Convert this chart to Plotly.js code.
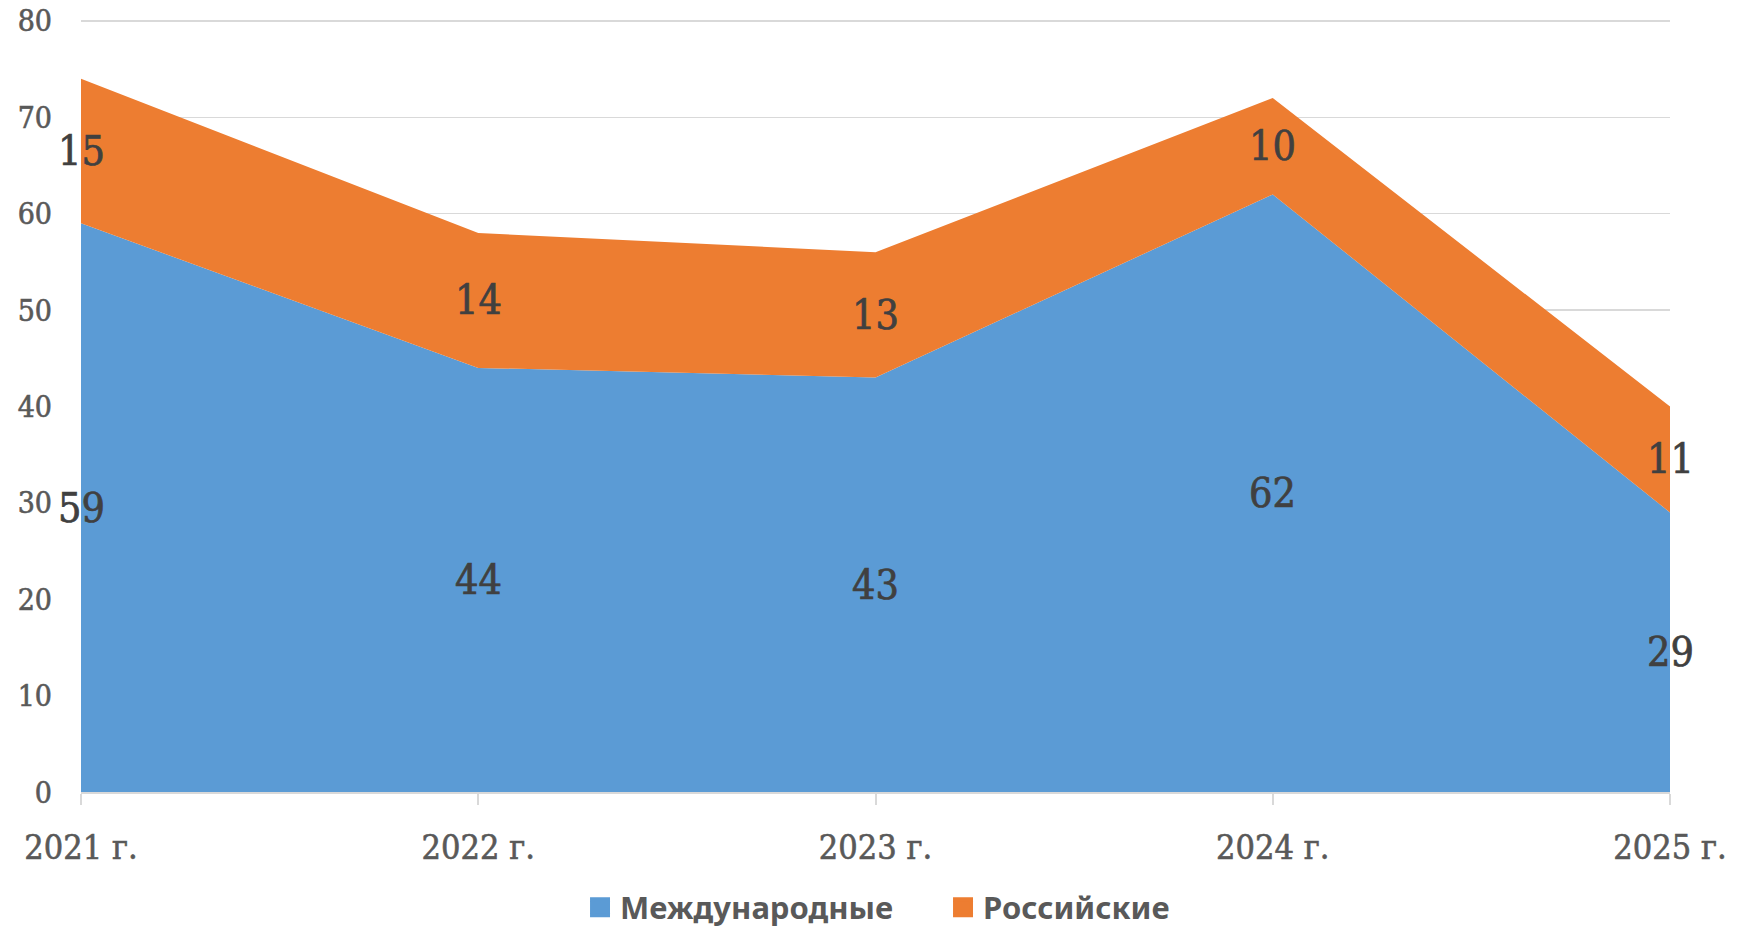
<!DOCTYPE html>
<html>
<head>
<meta charset="utf-8">
<script src="https://cdn.plot.ly/plotly-3.0.1.min.js"></script>
<style>
html,body{margin:0;padding:0;background:#fff;}
#chart{width:1740px;height:928px;}
#chart .xtick text, #chart .ytick text{stroke:#595959;stroke-width:0.6px;}
#chart .annotation-text{stroke:#404040;stroke-width:0.7px;}
</style>
</head>
<body>
<div id="chart"></div>
<script>
const years = ["2021 г.", "2022 г.", "2023 г.", "2024 г.", "2025 г."];
const intl = [59, 44, 43, 62, 29];
const rus = [15, 14, 13, 10, 11];
const seriesNames = ["Международные", "Российские"];
const yTicks = [0, 10, 20, 30, 40, 50, 60, 70, 80];

const blue = "#5B9BD5", orange = "#ED7D31";
const serif = "DejaVu Serif Condensed, DejaVu Serif, serif";

const traces = [
  {x: years, y: intl, type: "scatter", mode: "none", stackgroup: "one", fill: "tonexty",
   fillcolor: blue, line: {width: 0}, showlegend: false, hoverinfo: "skip"},
  {x: years, y: rus, type: "scatter", mode: "none", stackgroup: "one", fill: "tonexty",
   fillcolor: orange, line: {width: 0}, showlegend: false, hoverinfo: "skip"},
  {x: [null], y: [null], type: "scatter", mode: "markers", name: seriesNames[0],
   marker: {symbol: "square", size: 16, color: blue, line: {width: 4, color: blue}}},
  {x: [null], y: [null], type: "scatter", mode: "markers", name: seriesNames[1],
   marker: {symbol: "square", size: 16, color: orange, line: {width: 4, color: orange}}}
];

const annotations = [];
years.forEach((yr, i) => {
  annotations.push({x: yr, y: intl[i] / 2, xref: "x", yref: "y", text: String(intl[i]),
    showarrow: false, font: {family: serif, size: 41, color: "#404040"}});
  annotations.push({x: yr, y: intl[i] + rus[i] / 2, xref: "x", yref: "y", text: String(rus[i]),
    showarrow: false, font: {family: serif, size: 41, color: "#404040"}});
});

const layout = {
  width: 1740, height: 928,
  margin: {l: 81, r: 70, t: 18, b: 136},
  paper_bgcolor: "#fff", plot_bgcolor: "#fff",
  showlegend: true,
  legend: {orientation: "h", traceorder: "normal", xref: "paper", x: 0.5425, xanchor: "center",
    yref: "container", y: 0.022, yanchor: "middle",
    font: {family: "Noto Sans, sans-serif", size: 31, color: "#595959", weight: "bold"},
    itemwidth: 30, tracegroupgap: 0, entrywidth: 318, entrywidthmode: "pixels"},
  xaxis: {type: "category", range: [0, 4], showgrid: false, zeroline: false,
    showline: true, linecolor: "#D9D9D9", linewidth: 2,
    ticks: "outside", ticklen: 11, tickcolor: "#D9D9D9", tickwidth: 2,
    tickfont: {family: serif, size: 34, color: "#595959"}, ticklabelstandoff: 13},
  yaxis: {range: [0, 80.3], tickvals: yTicks, showgrid: true, gridcolor: "#D9D9D9", gridwidth: 1.5,
    zeroline: false, showline: false, ticks: "",
    tickfont: {family: serif, size: 30, color: "#595959"}, ticklabelstandoff: 28},
  annotations: annotations,
  hovermode: false
};

Plotly.newPlot("chart", traces, layout, {displayModeBar: false, staticPlot: true});
</script>
</body>
</html>
